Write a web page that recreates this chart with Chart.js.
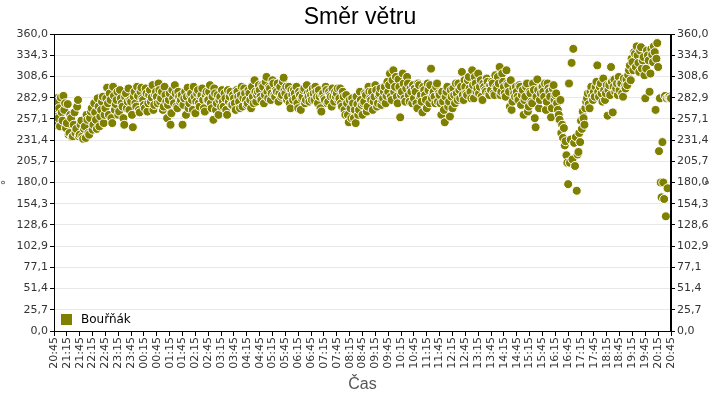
<!DOCTYPE html>
<html lang="cs">
<head>
<meta charset="utf-8">
<title>Směr větru</title>
<script src="https://cdn.jsdelivr.net/npm/chart.js@4.4.1/dist/chart.umd.min.js"></script>
<style>
  html, body { margin: 0; padding: 0; background: #fff; }
  #chartContainer { width: 720px; height: 400px; }
</style>
</head>
<body>
<div id="chartContainer"><canvas id="smerChart" width="720" height="400"></canvas></div>
<script>
// popisky osy X (po 30 minutach)
const casoveZnacky = [
    "20:45", "21:15", "21:45", "22:15", "22:45", "23:15", "23:45", "00:15", "00:45", "01:15",
    "01:45", "02:15", "02:45", "03:15", "03:45", "04:15", "04:45", "05:15", "05:45", "06:15",
    "06:45", "07:15", "07:45", "08:15", "08:45", "09:15", "09:45", "10:15", "10:45", "11:15",
    "11:45", "12:15", "12:45", "13:15", "13:45", "14:15", "14:45", "15:15", "15:45", "16:15",
    "16:45", "17:15", "17:45", "18:15", "18:45", "19:15", "19:45", "20:15", "20:45"
];

// smer vetru (stupne), mereni v cele 4 minuty od 20:45 (20:45, 20:49, ...)
const vecer = [ // 20:45 - 02:45
    262, 250, 278, 270, 283, 255, 268, 246, 275, 240, 258, 236, 265, 245, 280,
    238, 255, 233, 248, 262, 240, 258, 270, 250, 265, 245, 272, 260, 278, 252,
    270, 295, 262, 280, 252, 285, 275, 290, 266, 282, 272, 250, 288, 278, 268,
    278, 247, 290, 272, 285, 265, 295, 280, 270, 288, 276, 292, 283, 268, 286,
    284, 300, 278, 290, 272, 286, 258, 280, 250, 292, 276, 288, 270, 284, 280,
    250, 282, 262, 295, 276, 288, 268, 284, 278, 292, 272, 286, 280, 266, 290
];
const noc = [ // 02:45 - 08:45
    280, 298, 270, 256, 288, 276, 262, 284, 292, 272, 282, 262, 278, 290, 274,
    282, 268, 290, 278, 286, 272, 294, 280, 276, 288, 270, 284, 304, 278, 290,
    292, 280, 296, 286, 308, 282, 294, 288, 300, 284, 290, 278, 296, 286, 307,
    288, 280, 296, 270, 286, 292, 282, 276, 290, 268, 284, 294, 280, 288, 278,
    286, 294, 280, 290, 276, 284, 266, 288, 280, 292, 278, 286, 272, 284, 290,
    288, 280, 294, 272, 284, 262, 276, 253, 270, 282, 258, 252, 275, 268, 280
];
const dopoledne = [ // 08:45 - 14:45
    262, 278, 286, 272, 290, 280, 268, 284, 292, 276, 288, 274, 282, 296, 285,
    290, 312, 280, 316, 296, 284, 305, 259, 290, 300, 278, 308, 286, 294, 276,
    282, 290, 270, 298, 286, 265, 292, 280, 300, 276, 318, 288, 284, 296, 278,
    286, 262, 278, 253, 290, 272, 260, 284, 294, 276, 288, 300, 282, 314, 280,
    296, 286, 308, 290, 316, 282, 300, 294, 288, 304, 280, 296, 290, 302, 286,
    292, 300, 286, 296, 308, 320, 290, 302, 288, 316, 298, 272, 268, 294, 284
];
const odpoledne = [ // 14:45 - 20:45
    290, 280, 296, 286, 262, 284, 300, 272, 288, 276, 292, 247, 305, 270, 288,
    296, 284, 268, 300, 290, 259, 294, 280, 288, 268, 256, 240, 234, 225, 213,
    178, 204, 325, 342, 200, 170, 217, 229, 245, 258, 270, 282, 275, 290, 285,
    290, 296, 322, 284, 300, 278, 292, 288, 261, 298, 320, 265, 305, 294, 286,
    292, 300, 284, 296, 305, 310, 322, 330, 316, 336, 345, 325, 340, 318, 332,
    282, 340, 328, 312, 335, 345, 268, 349, 218, 180, 229, 160, 139, 173, 284,
    282
];

// mereni posunuta o 2 minuty (20:47, 20:51, ...)
const vecerMezi = [
    270, 282, 258, 248, 265, 285, 276, 252, 238, 262, 235, 250, 240, 272, 236,
    250, 236, 245, 234, 256, 238, 266, 244, 276, 256, 282, 248, 268, 284, 262,
    282, 276, 288, 258, 296, 268, 280, 262, 292, 276, 258, 284, 270, 294, 280,
    262, 284, 276, 296, 268, 290, 282, 274, 294, 266, 286, 278, 298, 274, 290,
    276, 292, 282, 268, 296, 278, 274, 288, 264, 282, 298, 272, 290, 278, 286,
    274, 290, 284, 270, 286, 280, 296, 264, 288, 276, 284, 294, 270, 286, 280
];
const nocMezi = [
    290, 276, 284, 294, 268, 286, 280, 272, 278, 288, 268, 292, 284, 274, 286,
    276, 292, 284, 270, 296, 282, 288, 274, 292, 280, 296, 276, 290, 286, 298,
    284, 298, 276, 302, 290, 296, 280, 304, 286, 292, 300, 288, 284, 302, 292,
    296, 284, 276, 292, 280, 288, 296, 270, 286, 282, 292, 276, 298, 284, 290,
    280, 288, 296, 284, 292, 270, 286, 282, 296, 276, 290, 284, 294, 278, 284,
    294, 282, 276, 290, 268, 286, 262, 280, 258, 276, 268, 284, 262, 290, 274
];
const dopoledneMezi = [
    276, 288, 266, 296, 282, 290, 278, 298, 272, 286, 294, 280, 290, 276, 302,
    298, 284, 304, 290, 308, 276, 296, 286, 312, 282, 294, 300, 278, 290, 298,
    294, 276, 300, 284, 278, 296, 286, 270, 292, 298, 282, 290, 276, 300, 288,
    276, 290, 268, 284, 296, 278, 292, 270, 286, 300, 280, 292, 296, 286, 304,
    288, 304, 294, 282, 298, 308, 290, 312, 296, 284, 300, 292, 306, 288, 298,
    302, 288, 310, 294, 300, 286, 312, 296, 284, 300, 290, 304, 278, 288, 296
];
const odpoledneMezi = [
    284, 298, 274, 292, 280, 296, 266, 290, 278, 300, 258, 284, 292, 280, 296,
    290, 300, 278, 294, 284, 270, 298, 286, 276, 262, 280, 250, 246, 230, 204,
    300, 232, 208, 228, 235, 214, 240, 255, 266, 250, 278, 288, 270, 296, 280,
    284, 302, 290, 296, 288, 306, 280, 298, 292, 286, 302, 296, 290, 300, 308,
    300, 288, 306, 294, 298, 316, 304, 326, 338, 320, 334, 314, 344, 328, 310,
    318, 334, 290, 342, 326, 338, 330, 320, 282, 162, 180, 285, 282, 283, 282
];

const krokMinut = 4;
const nazevStanice = "Bouřňák";
const barvaBodu = "#808000";

const hodnoty = [...vecer, ...noc, ...dopoledne, ...odpoledne];
const hodnotyMezi = [...vecerMezi, ...nocMezi, ...dopoledneMezi, ...odpoledneMezi];
const body = [];
hodnoty.forEach((v, i) => {
    body.push({x: i * krokMinut, y: v});
    if (i < hodnotyMezi.length) body.push({x: i * krokMinut + krokMinut / 2, y: hodnotyMezi[i]});
});

const formatStupne = v => v.toFixed(1).replace(".", ",");
const tickFont = {family: "'DejaVu Sans', sans-serif", size: 11};

// ramecek kolem plochy grafu + legenda uvnitr vlevo dole
const ramecekALegenda = {
    id: "ramecekALegenda",
    afterDraw(chart) {
        const {ctx, chartArea: a} = chart;
        ctx.save();
        ctx.strokeStyle = "#000";
        ctx.lineWidth = 1;
        ctx.strokeRect(Math.round(a.left) + 0.5, Math.round(a.top) + 0.5,
            Math.round(a.right - a.left) - 1, Math.round(a.bottom - a.top));
        ctx.fillStyle = barvaBodu;
        ctx.fillRect(a.left + 7, a.bottom - 17, 11, 11);
        ctx.fillStyle = "#000";
        ctx.font = "12px 'DejaVu Sans', sans-serif";
        ctx.textBaseline = "middle";
        ctx.fillText(nazevStanice, a.left + 27, a.bottom - 11);
        ctx.restore();
    }
};

const ctx = document.getElementById("smerChart").getContext("2d");
new Chart(ctx, {
    type: "scatter",
    data: {
        datasets: [{
            label: nazevStanice,
            data: body,
            backgroundColor: barvaBodu,
            borderColor: "#ffffff",
            borderWidth: 1,
            pointRadius: 4.5,
            pointHoverRadius: 4.5
        }]
    },
    options: {
        responsive: false,
        animation: false,
        devicePixelRatio: 1,
        layout: {padding: 0},
        plugins: {
            title: {
                display: true,
                text: "Směr větru",
                color: "#000",
                font: {family: "'Liberation Sans', Arial, sans-serif", size: 23, weight: "normal", lineHeight: 1},
                padding: {top: 6, bottom: 5}
            },
            legend: {display: false},
            tooltip: {enabled: false}
        },
        scales: {
            x: {
                type: "linear",
                min: 0,
                max: 1440,
                afterFit: s => { s.height = 69; },
                ticks: {
                    stepSize: 30,
                    autoSkip: false,
                    minRotation: 90,
                    maxRotation: 90,
                    padding: 1,
                    color: "#333",
                    font: tickFont,
                    callback: v => casoveZnacky[Math.round(v / 30)]
                },
                grid: {drawOnChartArea: false, tickColor: "#000", tickLength: 5},
                border: {color: "#000"},
                title: {
                    display: true,
                    text: "Čas",
                    color: "#555",
                    font: {family: "'Liberation Sans', Arial, sans-serif", size: 16},
                    padding: {top: 0, bottom: 6}
                }
            },
            y: {
                position: "left",
                min: 0,
                max: 360,
                afterFit: s => { s.width = 54; },
                ticks: {count: 15, color: "#333", font: tickFont, padding: 2, callback: formatStupne},
                grid: {color: "#e8e8e8", tickColor: "#000", tickLength: 4},
                border: {color: "#000"},
                title: {display: true, text: "°", color: "#333", font: tickFont, padding: {top: 0, bottom: 0}}
            },
            y2: {
                position: "right",
                min: 0,
                max: 360,
                afterFit: s => { s.width = 49; },
                ticks: {count: 15, color: "#333", font: tickFont, padding: 2, callback: formatStupne},
                grid: {drawOnChartArea: false, tickColor: "#000", tickLength: 4},
                border: {color: "#000"},
                title: {display: true, text: "°", color: "#333", font: tickFont, padding: {top: 10, bottom: 0}}
            }
        }
    },
    plugins: [ramecekALegenda]
});
</script>
</body>
</html>
